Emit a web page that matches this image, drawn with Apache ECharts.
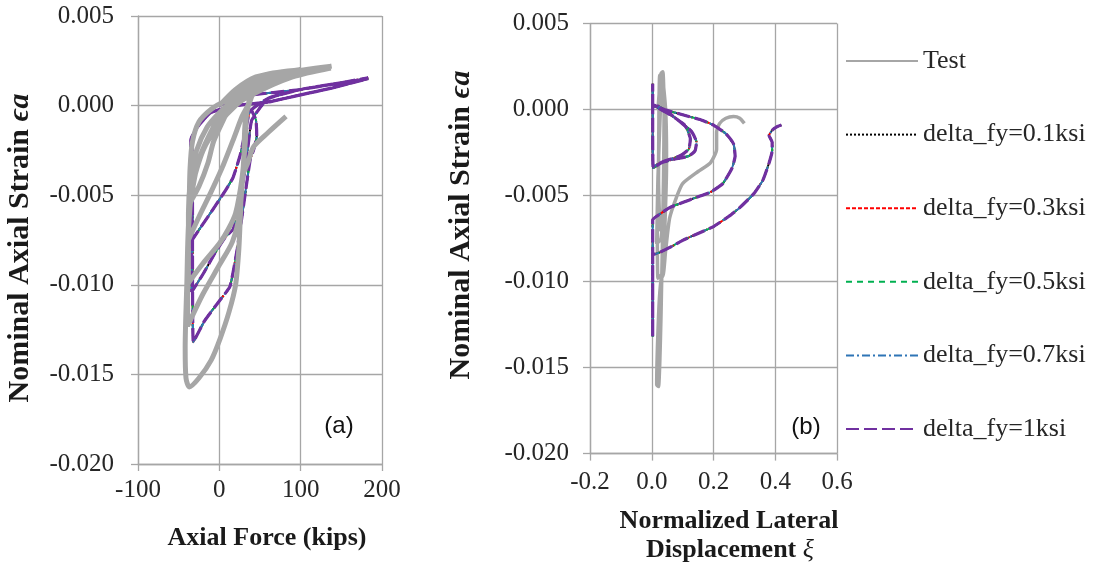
<!DOCTYPE html>
<html>
<head>
<meta charset="utf-8">
<script src="https://cdn.jsdelivr.net/npm/echarts@6/dist/echarts.min.js"></script>
<style>html,body{margin:0;padding:0;background:#fff}#c{width:1096px;height:569px}</style>
</head>
<body>
<div id="c"></div>
<script>
// ---------- tick labels / axis ranges ----------
var strainTicks = [-0.020, -0.015, -0.010, -0.005, 0.000, 0.005];
var forceTicks = [-100, 0, 100, 200];
var dispTicks = [-0.2, 0.0, 0.2, 0.4, 0.6];

var seriesNames = ['Test', 'delta_fy=0.1ksi', 'delta_fy=0.3ksi', 'delta_fy=0.5ksi', 'delta_fy=0.7ksi', 'delta_fy=1ksi'];

// ---------- panel (a): axial force (kips) vs axial strain ----------
var testA = [
 [0,0],[20,0.0009],[45,0.0016],[80,0.0019],[110,0.0020],[135,0.0021],[110,0.0019],[70,0.0015],[40,0.0009],[15,0.0002],
 [0,-0.0004],[-15,-0.0012],[-28,-0.0025],[-35,-0.0040],[-38,-0.0060],[-38,-0.0075],[-25,-0.0062],[-10,-0.0048],[5,-0.0033],
 [18,-0.0018],[28,-0.0006],[35,0.0000],[50,0.0014],[90,0.0019],[137,0.0021],[90,0.0016],[40,0.0006],[10,-0.0003],
 [-10,-0.0015],[-25,-0.0030],[-35,-0.0050],[-38,-0.0075],[-38,-0.0099],[-20,-0.0088],[0,-0.0077],[11,-0.0069],[20,-0.0060],
 [28,-0.0040],[32,-0.0020],[34,-0.0003],[45,0.0012],[80,0.0018],[138,0.0022],[100,0.0018],[50,0.0010],[20,0.0000],
 [0,-0.0010],[-20,-0.0025],[-33,-0.0045],[-38,-0.0070],[-39,-0.0095],[-39,-0.0123],[-20,-0.0105],[0,-0.0089],[16,-0.0076],
 [25,-0.0060],[30,-0.0030],[33,-0.0005],[50,0.0013],[95,0.0019],[135,0.0021],[80,0.0017],[30,0.0006],[5,0.0002],
 [-10,-0.0002],[-25,-0.0009],[-33,-0.0020],[-36,-0.0035],[-37,-0.0055],[-25,-0.0045],[-14,-0.0032],[-7,-0.0020],
 [5,-0.0008],[15,0.0001],[28,0.0009],[55,0.0017],[100,0.0020],[60,0.0016],[25,0.0008],[0,-0.0006],
 [-25,-0.0030],[-37,-0.0060],[-40,-0.0100],[-42,-0.0135],[-41,-0.0152],[-37,-0.0157],[-25,-0.0152],[-10,-0.0142],
 [1,-0.0130],[12,-0.0115],[20,-0.0100],[24,-0.0080],[26,-0.0060],[28,-0.0040],[35,-0.0032],[42,-0.0023],[60,-0.0015],[82,-0.0006]
];
var simA = [
 [0,0],[10,0.0002],[25,0.0005],[60,0.0007],[100,0.0009],[140,0.0012],[183,0.00155],[140,0.0010],[100,0.0006],[60,0.0002],[40,0.0001],[20,0.0000],
 [10,-0.0001],[-11,-0.0004],[-27,-0.0012],[-35,-0.0019],[-35,-0.0040],[-35,-0.0076],
 [-20,-0.0066],[-5,-0.0056],[8,-0.0047],[17,-0.0040],[26,-0.0027],[33,-0.0012],[38,-0.0003],
 [60,0.0004],[100,0.0009],[140,0.0012],[182,0.0015],[140,0.0010],[100,0.0006],[60,0.0002],[20,0.0000],
 [-11,-0.0004],[-27,-0.0012],[-34,-0.0019],[-34,-0.0060],[-34,-0.0104],
 [-20,-0.0094],[-5,-0.0082],[8,-0.0073],[17,-0.0069],[24,-0.0055],[30,-0.0040],[36,-0.0020],[40,-0.0008],
 [60,0.0004],[100,0.0009],[140,0.0012],[183,0.0015],[140,0.0010],[100,0.0006],[60,0.0002],[20,0.0000],
 [-11,-0.0004],[-27,-0.0012],[-33,-0.0019],[-33,-0.0080],[-32,-0.0132],
 [-18,-0.0120],[0,-0.0109],[13,-0.0101],[22,-0.0080],[30,-0.0055],[38,-0.0030],[42,-0.0025],[46,-0.0017],[45,-0.0008],[40,-0.0003]
];

// ---------- panel (b): normalized lateral displacement vs axial strain ----------
var testB = [
 [0.020,0.0000],[0.030,0.0021],[0.036,0.0022],[0.040,0.0005],[0.045,-0.0020],[0.042,-0.0045],[0.030,-0.0075],[0.016,-0.0078],
 [0.020,-0.0040],[0.028,0.0000],[0.033,0.0021],[0.045,0.0000],[0.048,-0.0030],[0.044,-0.0060],[0.035,-0.0095],[0.020,-0.0098],
 [0.018,-0.0060],[0.022,-0.0030],[0.026,0.0020],[0.040,0.0010],[0.046,-0.0010],[0.040,-0.0050],[0.028,-0.0070],[0.022,-0.0040],
 [0.024,-0.0010],[0.030,0.0019],[0.040,0.0000],[0.038,-0.0040],[0.030,-0.0120],[0.022,-0.0161],[0.016,-0.0160],
 [0.022,-0.0120],[0.030,-0.0097],[0.036,-0.0097],[0.045,-0.0082],[0.058,-0.0063],[0.080,-0.0051],[0.100,-0.0043],[0.150,-0.0036],
 [0.190,-0.0031],[0.210,-0.0023],[0.210,-0.0013],[0.220,-0.0008],[0.240,-0.0005],[0.265,-0.0004],[0.285,-0.0005],[0.300,-0.0008]
];
var simB = [
 [0.003,0.0000],[0.003,0.0015],[0.003,0.0003],
 [0.020,0.0001],[0.060,-0.0003],[0.100,-0.0008],[0.130,-0.0013],[0.145,-0.0019],[0.140,-0.0024],[0.120,-0.0027],[0.070,-0.0029],[0.030,-0.0031],[0.005,-0.0034],
 [0.003,-0.0020],[0.003,0.0002],
 [0.020,0.0002],[0.070,-0.0004],[0.110,-0.0010],[0.125,-0.0017],[0.120,-0.0023],[0.090,-0.0027],[0.040,-0.0030],[0.005,-0.0033],
 [0.003,-0.0015],[0.003,0.0003],
 [0.040,0.0000],[0.100,-0.0003],[0.160,-0.0006],[0.200,-0.0009],[0.240,-0.0014],[0.265,-0.0020],[0.270,-0.0027],[0.260,-0.0034],
 [0.230,-0.0043],[0.190,-0.0048],[0.145,-0.0051],[0.100,-0.0054],[0.058,-0.0057],[0.016,-0.0062],[0.003,-0.0064],
 [0.003,-0.0132],[0.003,-0.0084],
 [0.010,-0.0084],[0.026,-0.0083],[0.060,-0.0080],[0.100,-0.0076],[0.150,-0.0072],[0.200,-0.0068],[0.250,-0.0062],[0.285,-0.0057],
 [0.330,-0.0049],[0.360,-0.0041],[0.380,-0.0031],[0.390,-0.0024],[0.390,-0.0019],[0.380,-0.0015],[0.390,-0.0012],[0.405,-0.0010],[0.420,-0.0009]
];

// ---------- styles ----------
var gridGray = '#a6a6a6';
var labelColor = '#262626';
var serif = 'Liberation Serif';
var simStyles = [
 {color:'#000000', type:'dotted', width:2},
 {color:'#ff0000', type:[4,2], width:2},
 {color:'#00b050', type:[6,5], width:2},
 {color:'#2e75b6', type:[8,3,2,3], width:2},
 {color:'#7030a0', type:[13,5], width:3.2}
];

function axisCommon(extra){
  var o = {
    type:'value',
    axisLine:{show:true, onZero:false, lineStyle:{color:gridGray, width:1.3}},
    axisTick:{show:true, length:7, lineStyle:{color:gridGray, width:1.3}},
    splitLine:{show:true, lineStyle:{color:gridGray, width:1.3}},
    axisLabel:{color:labelColor, fontFamily:serif, fontSize:25}
  };
  for (var k in extra) o[k] = extra[k];
  return o;
}
function fmtFix(d){ return function(v){ return (Math.abs(v) < 1e-12 ? 0 : v).toFixed(d); }; }

var yMin = strainTicks[0], yMax = strainTicks[strainTicks.length-1];

var series = [];
function addSim(gi, data){
  for (var i=0;i<simStyles.length;i++){
    series.push({name:seriesNames[i+1], type:'line', xAxisIndex:gi, yAxisIndex:gi, data:data,
      symbol:'none', showSymbol:false, animation:false, z:3+i, smooth:0.15,
      lineStyle:{color:simStyles[i].color, type:simStyles[i].type, width:simStyles[i].width},
      itemStyle:{color:simStyles[i].color}});
  }
}
// panel (a): simulation under test
addSim(0, simA);
series.push({name:'Test', type:'line', xAxisIndex:0, yAxisIndex:0, data:testA, symbol:'none', showSymbol:false,
  animation:false, z:10, smooth:0.25, lineStyle:{color:'#a6a6a6', width:5}, itemStyle:{color:'#a6a6a6'}});
// panel (b): test under simulation
series.push({name:'Test', type:'line', xAxisIndex:1, yAxisIndex:1, data:testB, symbol:'none', showSymbol:false,
  animation:false, z:2, smooth:0.2, lineStyle:{color:'#a6a6a6', width:3.5}, itemStyle:{color:'#a6a6a6'}});
addSim(1, simB);

var titleFont = 'bold 26px "Liberation Serif"';
var yTitleFont = 'bold 30px "Liberation Serif"';
var yTitleItalic = 'italic bold 30px "Liberation Serif"';

var option = {
  backgroundColor:'#ffffff',
  animation:false,
  grid:[
    {left:138, top:16, width:244, height:448},
    {left:590, top:23.6, width:247, height:430}
  ],
  xAxis:[
    axisCommon({gridIndex:0, min:forceTicks[0], max:forceTicks[forceTicks.length-1], interval:100,
      axisLabel:{color:labelColor, fontFamily:serif, fontSize:25, margin:14}}),
    axisCommon({gridIndex:1, min:dispTicks[0], max:dispTicks[dispTicks.length-1], interval:0.2,
      axisLabel:{color:labelColor, fontFamily:serif, fontSize:25, margin:16, formatter:fmtFix(1)}})
  ],
  yAxis:[
    axisCommon({gridIndex:0, min:yMin, max:yMax, interval:0.005,
      axisLabel:{color:labelColor, fontFamily:serif, fontSize:25, margin:24, formatter:fmtFix(3)}}),
    axisCommon({gridIndex:1, min:yMin, max:yMax, interval:0.005,
      axisLabel:{color:labelColor, fontFamily:serif, fontSize:25, margin:21, formatter:fmtFix(3)}})
  ],
  legend:{
    orient:'vertical', left:845, top:47, padding:0,
    itemWidth:72, itemHeight:14, itemGap:45.6,
    itemStyle:{opacity:0},
    data:seriesNames,
    textStyle:{color:labelColor, fontFamily:serif, fontSize:26, lineHeight:28}
  },
  graphic:[
    {type:'text', x:20, y:248, rotation:Math.PI/2,
      style:{text:'{b|Nominal Axial Strain }{i|ϵa}', align:'center', verticalAlign:'middle',
        rich:{b:{font:yTitleFont, fill:'#1a1a1a'}, i:{font:yTitleItalic, fill:'#1a1a1a'}}}},
    {type:'text', x:461, y:225, rotation:Math.PI/2,
      style:{text:'{b|Nominal Axial Strain }{i|ϵa}', align:'center', verticalAlign:'middle',
        rich:{b:{font:yTitleFont, fill:'#1a1a1a'}, i:{font:yTitleItalic, fill:'#1a1a1a'}}}},
    {type:'text', x:267, y:538,
      style:{text:'Axial Force (kips)', font:titleFont, fill:'#1a1a1a', align:'center', verticalAlign:'middle'}},
    {type:'text', x:729, y:521,
      style:{text:'Normalized Lateral', font:titleFont, fill:'#1a1a1a', align:'center', verticalAlign:'middle'}},
    {type:'text', x:730, y:550,
      style:{text:'{b|Displacement }{i|ξ}', align:'center', verticalAlign:'middle',
        rich:{b:{font:titleFont, fill:'#1a1a1a'}, i:{font:'italic 26px "Liberation Serif"', fill:'#1a1a1a'}}}},
    {type:'text', x:339, y:426,
      style:{text:'(a)', font:'24px "Liberation Sans"', fill:'#111', align:'center', verticalAlign:'middle'}},
    {type:'text', x:806, y:427,
      style:{text:'(b)', font:'24px "Liberation Sans"', fill:'#111', align:'center', verticalAlign:'middle'}}
  ],
  series:series
};

var chart = echarts.init(document.getElementById('c'), null, {renderer:'canvas'});
chart.setOption(option);
</script>
</body>
</html>
